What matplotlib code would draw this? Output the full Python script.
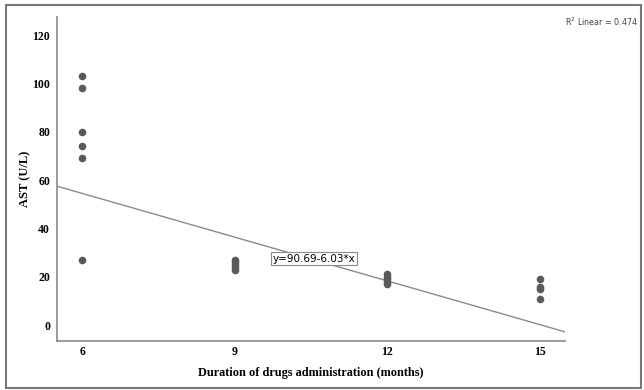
import matplotlib.pyplot as plt
from matplotlib.patches import Rectangle

# data
months_6 = [103, 98, 80, 74, 69, 27]
months_9 = [27, 26, 25, 24, 23]
months_12 = [21, 20, 19, 18, 17]
months_15 = [19, 16, 15, 11]
groups = {6: months_6, 9: months_9, 12: months_12, 15: months_15}

intercept, slope = 90.69, -6.03
r2 = 0.474
x_ticks = [6, 9, 12, 15]
y_ticks = [0, 20, 40, 60, 80, 100, 120]

fig = plt.figure(figsize=(6.44, 3.90), dpi=100)
ax = fig.add_axes([0.0885, 0.126, 0.789, 0.830])

for month, vals in groups.items():
    ax.scatter([month] * len(vals), vals, s=20, color='#5a5a5a', zorder=3)

x0, x1 = 5.5, 15.5
ax.plot([x0, x1], [intercept + slope * x0, intercept + slope * x1],
        color='#8a8a8a', lw=1.0, zorder=2)

ax.text(9.75, 27.5, f'y={intercept:.2f}-{abs(slope):.2f}*x', fontsize=7.5,
        family='DejaVu Sans', va='center', ha='left', zorder=4,
        bbox=dict(boxstyle='square,pad=0.15', fc='white', ec='#8a8a8a', lw=0.8))

ax.set_xlim(x0, x1)
ax.set_ylim(-6.5, 127.5)
ax.set_xticks(x_ticks)
ax.set_yticks(y_ticks)
ax.tick_params(axis='y', length=0, labelsize=8.5, pad=5)
ax.tick_params(axis='x', length=0, labelsize=8.5, pad=4)
for lab in ax.get_xticklabels() + ax.get_yticklabels():
    lab.set_family('Liberation Serif')
    lab.set_fontweight('bold')

for side in ('top', 'right'):
    ax.spines[side].set_visible(False)
for side in ('left', 'bottom'):
    ax.spines[side].set_color('#8a8a8a')
    ax.spines[side].set_linewidth(1.2)

ax.set_xlabel('Duration of drugs administration (months)', family='Liberation Serif',
              fontweight='bold', fontsize=8.8, labelpad=6)
ax.set_ylabel('AST (U/L)', family='Liberation Serif', fontweight='bold',
              fontsize=9, labelpad=1)

fig.text(0.877, 0.943, '$\\mathregular{R^2}$ Linear = 0.474', fontsize=5.8,
         family='DejaVu Sans', color='#444444', ha='left', va='center')

fig.patches.append(Rectangle((0.009, 0.006), 0.986, 0.982, transform=fig.transFigure,
                             fill=False, ec='#777777', lw=1.5))

fig.savefig('out.png', dpi=100)
